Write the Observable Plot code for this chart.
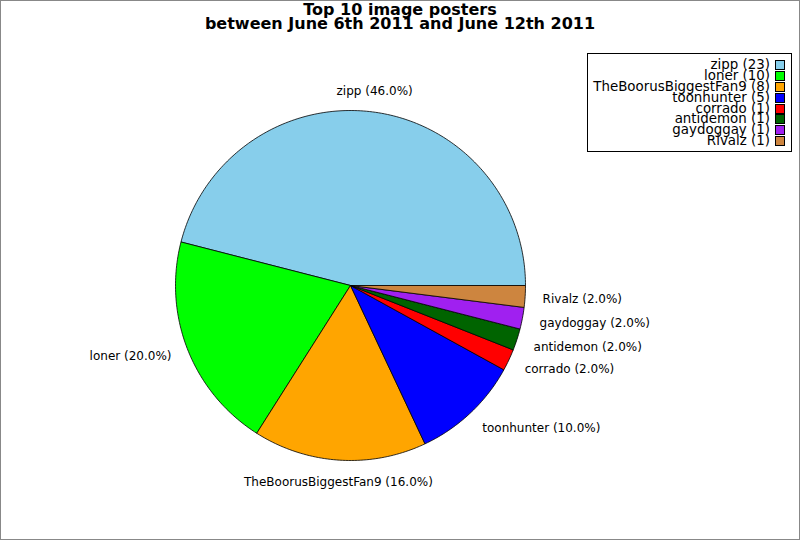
<!DOCTYPE html>
<html>
<head>
<meta charset="utf-8">
<script src="https://cdn.jsdelivr.net/npm/d3@7"></script>
<script src="https://cdn.jsdelivr.net/npm/@observablehq/plot@0.6"></script>
<style>
  body { margin: 0; background: #fff; }
  #wrap { position: relative; width: 800px; height: 540px; font-family: "DejaVu Sans", sans-serif; overflow: hidden; }
  #frame { position: absolute; left: 0; top: 0; width: 800px; height: 540px; box-sizing: border-box; border: 1px solid #888; pointer-events: none; }
  #title { position: absolute; left: 0; width: 800px; top: 3px; text-align: center; font-weight: bold; font-size: 16px; line-height: 13.5px; }
  #legend { position: absolute; left: 587px; top: 53px; width: 205px; height: 99px; box-sizing: border-box; border: 1px solid #000; background: #fff; padding-top: 6px; }
  .row { position: relative; height: 10.9px; font-size: 13.4px; line-height: 10.9px; }
  .row span { position: absolute; right: 21px; top: 0; white-space: nowrap; }
  .row i { position: absolute; right: 6px; top: 0; width: 8px; height: 8px; border: 1px solid #000; }
</style>
</head>
<body>
<div id="wrap">
  <div id="chart"></div>
  <div id="title">Top 10 image posters<br>between June 6th 2011 and June 12th 2011</div>
  <div id="legend"></div>
  <div id="frame"></div>
</div>
<script>
const names = ['zipp', 'loner', 'TheBoorusBiggestFan9', 'toonhunter', 'corrado', 'antidemon', 'gaydoggay', 'Rivalz']
const counts = [23, 10, 8, 5, 1, 1, 1, 1]
const colors = ['#87ceeb', '#00ff00', '#ffa500', '#0000ff', '#ff0000', '#006400', '#a020f0', '#cd853f']

const total = d3.sum(counts)
let acc = 0
const slices = names.map((name, i) => {
  const a0 = acc / total * 2 * Math.PI
  acc += counts[i]
  const a1 = acc / total * 2 * Math.PI
  const mid = (a0 + a1) / 2
  const c = Math.cos(mid), s = Math.sin(mid)
  let side = c > 0 ? 'right' : 'left'
  if (Math.abs(c) < 0.2) side = s > 0 ? 'top' : 'bottom'
  return {name, count: counts[i], a0, a1, lx: 1.1 * c, ly: 1.1 * s, side,
    label: `${name} (${(counts[i] / total * 100).toFixed(1)}%)`}
})

// wedge outlines: centre, arc, back to centre
const wedges = slices.flatMap(d => {
  const n = Math.max(2, Math.ceil((d.a1 - d.a0) / (Math.PI / 180)))
  const pts = [{name: d.name, x: 0, y: 0}]
  for (let k = 0; k <= n; k++) {
    const a = d.a0 + (d.a1 - d.a0) * k / n
    pts.push({name: d.name, x: Math.cos(a), y: Math.sin(a)})
  }
  pts.push({name: d.name, x: 0, y: 0})
  return pts
})

// pie centre at (350, 285) px, radius 175 px
const R = 175
const lbl = (side, opts) => Plot.text(slices.filter(d => d.side === side), {x: 'lx', y: 'ly', text: 'label', fontSize: 12, fill: '#000', ...opts})

const chart = Plot.plot({
  width: 800,
  height: 540,
  margin: 0,
  x: {domain: [-350 / R, 450 / R], range: [0, 800], axis: null},
  y: {domain: [-255 / R, 285 / R], range: [540, 0], axis: null},
  color: {domain: names, range: colors},
  style: {fontFamily: '"DejaVu Sans", sans-serif', background: 'transparent'},
  marks: [
    Plot.line(wedges, {x: 'x', y: 'y', z: 'name', fill: 'name', stroke: '#000', strokeWidth: 0.8, curve: 'linear'}),
    lbl('right', {textAnchor: 'start', dy: 2}),
    lbl('left', {textAnchor: 'end'}),
    lbl('top', {textAnchor: 'middle', lineAnchor: 'bottom'}),
    lbl('bottom', {textAnchor: 'middle', lineAnchor: 'top'}),
  ],
})
d3.select('#chart').append(() => chart)

const legend = d3.select('#legend')
slices.forEach((d, i) => {
  const row = legend.append('div').attr('class', 'row')
  row.append('span').text(`${d.name} (${d.count})`)
  row.append('i').style('background', colors[i])
})
</script>
</body>
</html>
